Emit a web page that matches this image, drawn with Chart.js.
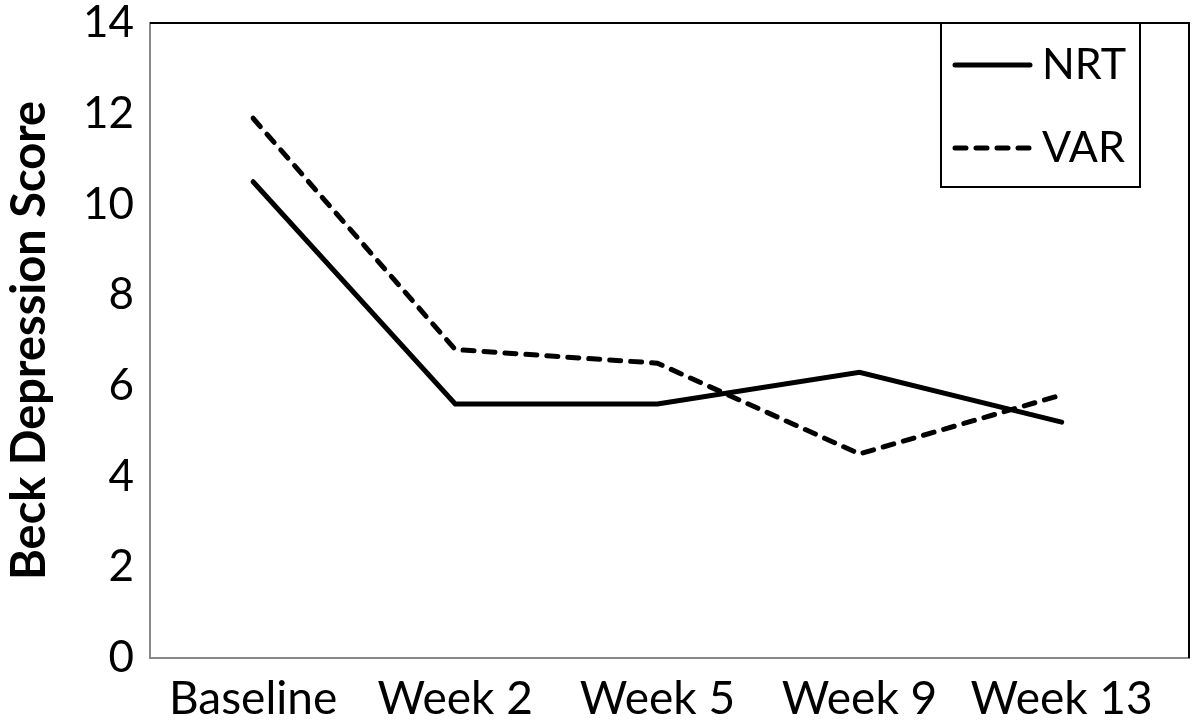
<!DOCTYPE html>
<html>
<head>
<meta charset="utf-8">
<script src="https://cdn.jsdelivr.net/npm/chart.js@4"></script>
<style>
  html, body { margin: 0; padding: 0; background: #fff; }
  #wrap { width: 1200px; height: 728px; }
</style>
</head>
<body>
<div id="wrap"><canvas id="BeckChart"></canvas></div>
<script>
// weeks along the bottom
const categories = ["Baseline", "Week 2", "Week 5", "Week 9", "Week 13"];
// mean Beck score per group
const nrtValues = [10.5, 5.6, 5.6, 6.3, 5.2];
const varValues = [11.9, 6.8, 6.5, 4.5, 5.8];
const yTicks = [0, 2, 4, 6, 8, 10, 12, 14];

const FONT = "Lato";

function toPoints(values)
{
    return values.map((v, i) => ({x: i, y: v}));
}

// frame on top/right of plot + boxed legend top-right
const framePlugin = {
    id: "frame",
    afterDraw(chart) {
        const ctx = chart.ctx;
        const a = chart.chartArea;
        ctx.save();
        ctx.strokeStyle = "#000";
        ctx.lineWidth = 2;
        ctx.beginPath();
        ctx.moveTo(a.left, a.top);
        ctx.lineTo(a.right, a.top);
        ctx.lineTo(a.right, a.bottom);
        ctx.stroke();

        // legend box
        const bx = 941, by = a.top, bw = 199, bh = 164;
        ctx.strokeRect(bx, by, bw, bh);
        ctx.font = "43px " + FONT;
        ctx.textBaseline = "middle";
        ctx.fillStyle = "#000";
        chart.data.datasets.forEach((ds, i) => {
            const y = by + 42 + i * 83;
            ctx.beginPath();
            ctx.lineWidth = ds.borderWidth;
            ctx.lineCap = "round";
            ctx.setLineDash(ds.borderDash || []);
            ctx.moveTo(955, y);
            ctx.lineTo(1030, y);
            ctx.stroke();
            ctx.setLineDash([]);
            ctx.fillText(ds.label, 1042, y);
        });
        ctx.restore();
    }
};

new Chart(document.getElementById("BeckChart"), {
    type: "line",
    data: {
        datasets: [
            {label: "NRT", data: toPoints(nrtValues), borderColor: "#000", borderWidth: 5,
             pointRadius: 0, tension: 0, borderCapStyle: "round", borderJoinStyle: "miter"},
            {label: "VAR", data: toPoints(varValues), borderColor: "#000", borderWidth: 5,
             borderDash: [11, 10], borderCapStyle: "round", pointRadius: 0, tension: 0}
        ]
    },
    options: {
        responsive: true,
        maintainAspectRatio: false,
        animation: false,
        layout: {padding: {top: 23, right: 11, left: 0, bottom: 0}},
        plugins: {legend: {display: false}, tooltip: {enabled: false}},
        scales: {
            x: {
                type: "linear",
                min: -0.51,
                max: 4.63,
                grid: {display: false, drawTicks: false},
                border: {color: "#888", width: 2},
                afterBuildTicks: s => { s.ticks = categories.map((c, i) => ({value: i})); },
                afterFit: s => { s.height = 70; s.paddingLeft = 0; s.paddingRight = 0; },
                ticks: {
                    autoSkip: false, maxRotation: 0, padding: 14, color: "#000",
                    font: {family: FONT, size: 46},
                    callback: v => categories[v]
                }
            },
            y: {
                min: 0,
                max: 14,
                grid: {display: false, drawTicks: false},
                border: {color: "#888", width: 2},
                afterBuildTicks: s => { s.ticks = yTicks.map(v => ({value: v})); },
                afterFit: s => { s.width = 150; s.paddingTop = 0; s.paddingBottom = 0; },
                ticks: {padding: 16, color: "#000", font: {family: FONT, size: 44}},
                title: {
                    display: true, text: "Beck Depression Score", color: "#000",
                    font: {family: FONT, size: 47, weight: "bold"}, padding: {top: 2, bottom: 0}
                }
            }
        }
    },
    plugins: [framePlugin]
});
</script>
</body>
</html>
